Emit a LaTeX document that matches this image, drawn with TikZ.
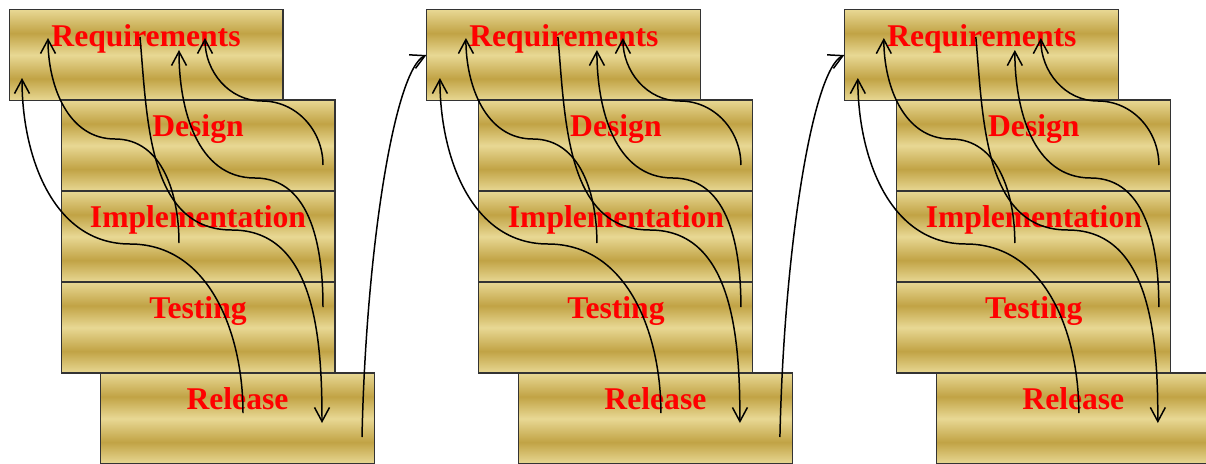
\documentclass[tikz,border=0pt]{standalone}
\usepackage{fontspec}
\setmainfont{Liberation Serif}
\usepackage{xcolor}
\usetikzlibrary{arrows.meta}
\definecolor{goldlight}{HTML}{E8D894}
\definecolor{golddark}{HTML}{C1A345}
\pgfdeclareverticalshading{goldbands}{100bp}{color(0bp)=(goldlight); color(25bp)=(goldlight); color(37bp)=(golddark); color(50bp)=(goldlight); color(62bp)=(golddark); color(75bp)=(goldlight); color(100bp)=(goldlight)}

\begin{document}
\begin{tikzpicture}[x=0.02cm, y=0.02cm,
    phase/.style={draw=black!80, line width=0.6pt, shade, shading=goldbands,
      minimum width=5.48cm, minimum height=1.82cm, inner sep=0pt,
      text height=0.5cm, text depth=0.86cm, text=red,
      font=\bfseries\fontsize{18}{20}\selectfont},
    flow/.style={line width=0.85pt, -{Straight Barb[length=0.28cm,width=0.3cm]}}]
  \useasboundingbox (0,0) rectangle (1206,-463);
  \clip (0,0) rectangle (1206,-463);

  \foreach \g in {0,1,2}{
    \begin{scope}[xshift=\g*8.36cm]
      \node[phase] (req\g) at (146,-55) {Requirements};
      \node[phase] (des\g) at (198,-145.5) {Design};
      \node[phase] (imp\g) at (198,-236.5) {Implementation};
      \node[phase] (tst\g) at (198,-327.5) {Testing};
      \node[phase] (rel\g) at (237.5,-418.5) {Release};

      \draw[flow] ([shift={(125,-19.5)}]des\g.center) to[out=90,in=0] (262,-101)
        to[out=180,in=-90] ([shift={(59,17)}]req\g.center);
      \draw[flow] ([shift={(125,20.5)}]tst\g.center) to[out=90,in=0] (255,-178)
        to[out=180,in=-90] ([shift={(33,5)}]req\g.center);
      \draw[flow] ([shift={(5.5,5.5)}]rel\g.center) to[out=90,in=0] (130,-244)
        to[out=180,in=-90] ([shift={(-124,-23)}]req\g.center);
      \draw[flow] ([shift={(-19,-6.5)}]imp\g.center) to[out=90,in=0] (115,-139)
        to[out=180,in=-90] ([shift={(-98,17)}]req\g.center);
      \draw[flow] ([shift={(-6,18)}]req\g.center) to[out=-85,in=180] (232,-230)
        to[out=0,in=90] ([shift={(84.5,-4.5)}]rel\g.center);
    \end{scope}
  }

  \draw[flow] ([shift={(124.5,-18.5)}]rel0.center) .. controls +(4,187) and +(-32,-15) .. (req1.west);
  \draw[flow] ([shift={(124.5,-18.5)}]rel1.center) .. controls +(4,187) and +(-32,-15) .. (req2.west);
\end{tikzpicture}
\end{document}
